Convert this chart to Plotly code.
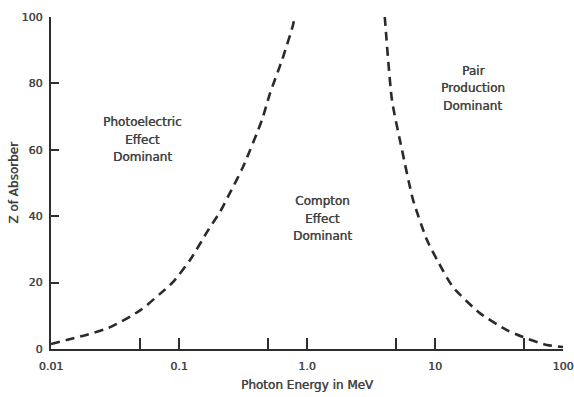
import math
import plotly.graph_objects as go

# Boundary: photoelectric / Compton
pe_energy = [0.01, 0.028, 0.05, 0.071, 0.09, 0.122, 0.169, 0.209, 0.25, 0.316, 0.445, 0.514, 0.638, 0.778, 0.80]
pe_z = [1.5, 6.3, 11.7, 16.6, 20.2, 26.8, 35.8, 41.3, 47.0, 54.8, 69.0, 77.0, 87.0, 97.6, 100.0]

# Boundary: Compton / pair production
pp_energy = [4.05, 4.07, 4.61, 5.52, 6.73, 8.66, 10.4, 13.8, 22.4, 36.5, 48.7, 75.0, 100.0]
pp_z = [100.0, 99.0, 75.0, 60.0, 45.0, 32.8, 26.8, 18.7, 10.8, 5.7, 3.6, 1.2, 0.6]

x_tickvals = [0.01, 0.05, 0.1, 0.5, 1, 5, 10, 50, 100]
x_ticktext = ["0.01", "", "0.1", "", "1.0", "", "10", "", "100"]
y_tickvals = [0, 20, 40, 60, 80, 100]

region_labels = [
    (["Photoelectric", "Effect", "Dominant"], 0.052, 63.0),
    (["Compton", "Effect", "Dominant"], 1.31, 39.2),
    (["Pair", "Production", "Dominant"], 19.8, 78.6),
]

FONT = "DejaVu Sans"
TXT = "#404040"
AX = "#2e2e2e"
SHADOW = "0.5px 0 0 #555"

fig = go.Figure()
for xs, ys in [(pe_energy, pe_z), (pp_energy, pp_z)]:
    fig.add_trace(go.Scatter(
        x=xs, y=ys, mode="lines",
        line=dict(color="#2a2a2a", width=2.6, dash="9px,6px", shape="spline", smoothing=0.6),
        hoverinfo="skip", showlegend=False,
    ))

annotations = []
for lines, xv, yv in region_labels:
    for i, txt in enumerate(lines):
        annotations.append(dict(
            x=math.log10(xv), y=yv, xref="x", yref="y", text=txt, showarrow=False,
            yshift=(1 - i) * 17.5, xanchor="center", yanchor="middle",
            font=dict(family=FONT, size=12, color=TXT, shadow=SHADOW),
        ))

fig.update_layout(
    width=574, height=397, autosize=False,
    margin=dict(l=51, r=11, t=17, b=48),
    paper_bgcolor="white", plot_bgcolor="white",
    annotations=annotations,
    font=dict(family=FONT, color=TXT),
)

fig.update_xaxes(
    type="log", range=[-2, 2],
    tickvals=x_tickvals, ticktext=x_ticktext,
    ticks="inside", ticklen=11, tickwidth=2, tickcolor=AX,
    showline=True, linewidth=2.4, linecolor=AX,
    showgrid=False, zeroline=False,
    ticklabelstandoff=6,
    tickfont=dict(family=FONT, size=11, color=TXT, shadow=SHADOW),
    title=dict(text="Photon Energy in MeV", font=dict(family=FONT, size=12, color=TXT, shadow=SHADOW), standoff=8),
    automargin=False,
)
fig.update_yaxes(
    range=[0, 100],
    tickvals=y_tickvals,
    ticks="inside", ticklen=8, tickwidth=2, tickcolor=AX,
    showline=True, linewidth=2.4, linecolor=AX,
    showgrid=False, zeroline=False,
    ticklabelstandoff=4,
    tickfont=dict(family=FONT, size=11, color=TXT, shadow=SHADOW),
    title=dict(text="Z of Absorber", font=dict(family=FONT, size=12, color=TXT, shadow=SHADOW), standoff=0),
    automargin=False,
)

fig.write_html("out.html")
